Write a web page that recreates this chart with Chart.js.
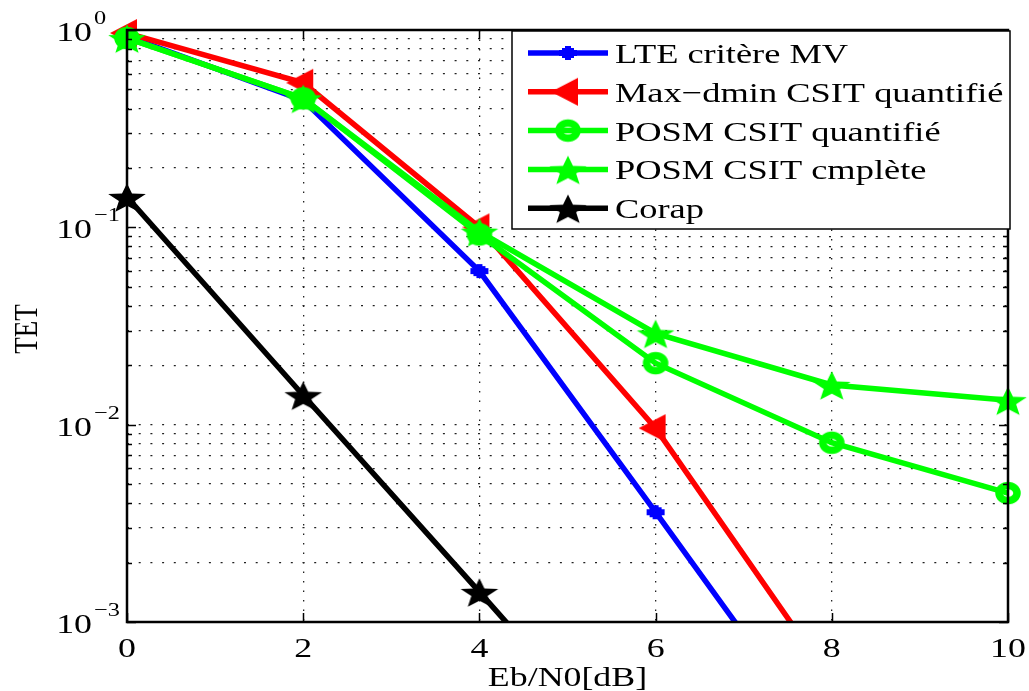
<!DOCTYPE html>
<html>
<head>
<meta charset="utf-8">
<script src="https://cdn.jsdelivr.net/npm/chart.js@4.4.1/dist/chart.umd.min.js"></script>
<style>
  html, body { margin: 0; padding: 0; background: #fff; }
  canvas { display: block; }
</style>
</head>
<body>
<canvas id="chart" width="1029" height="691"></canvas>
<script>
// Eb/N0 in dB
const ebn0 = [0, 2, 4, 6, 8, 10];

// TET for each curve (the steep ones run below 1e-3 and get clipped)
const lteMV     = [0.93, 0.44, 0.060, 0.0036, 0.00021];
const maxDmin   = [0.965, 0.54, 0.100, 0.0096, 0.0005];
const posmQuant = [0.91, 0.45, 0.092, 0.0205, 0.0081, 0.0045];
const posmFull  = [0.91, 0.45, 0.095, 0.029, 0.0159, 0.0133];
const corap     = [0.1425, 0.0141, 0.00142, 0.00014];

const seriesNames = ['LTE critère MV', 'Max\u2212dmin CSIT quantifié', 'POSM CSIT quantifié', 'POSM CSIT cmplète', 'Corap'];

const xTicks = [0, 2, 4, 6, 8, 10];
const yDecades = [1, 0.1, 0.01, 0.001];
const yExponents = ['0', '\u22121', '\u22122', '\u22123'];
const yMinor = [2, 3, 4, 5, 6, 7, 8, 9];

const SX = 1.28;          // figure is stretched horizontally
const SERIF = '"Liberation Serif", "Times New Roman", serif';
const LINE_W = 5.5;

// all y grid values: decades plus 2..9 within each decade
const yGrid = [];
yDecades.forEach(d => {
  yGrid.push(d);
  if (d < 1) yMinor.forEach(m => yGrid.push(m * d));
});

// ---- marker images ----
function marker(w, h, draw) {
  const c = document.createElement('canvas');
  c.width = w; c.height = h;
  draw(c.getContext('2d'), w / 2, h / 2);
  return c;
}

const plusMarker = marker(24, 20, (ctx, cx, cy) => {
  ctx.strokeStyle = '#0000ff';
  ctx.lineWidth = 6;
  ctx.beginPath();
  ctx.moveTo(cx - 9, cy); ctx.lineTo(cx + 9, cy);
  ctx.moveTo(cx, cy - 7); ctx.lineTo(cx, cy + 7);
  ctx.stroke();
  ctx.fillStyle = '#0000ff';
  ctx.fillRect(cx - 6, cy - 5, 12, 10);
});

const triMarker = marker(34, 32, (ctx, cx, cy) => {
  ctx.fillStyle = '#ff0000';
  ctx.beginPath();
  ctx.moveTo(cx - 17, cy);
  ctx.lineTo(cx + 10, cy - 14);
  ctx.lineTo(cx + 10, cy + 14);
  ctx.closePath();
  ctx.fill();
});

const ringMarker = marker(32, 28, (ctx, cx, cy) => {
  ctx.strokeStyle = '#00ff00';
  ctx.lineWidth = 7.5;
  ctx.beginPath();
  ctx.ellipse(cx, cy, 9, 7.5, 0, 0, Math.PI * 2);
  ctx.stroke();
});

function starMarker(color) {
  return marker(48, 40, (ctx, cx, cy) => {
    const R = 18, r = R * 0.43;
    ctx.fillStyle = color;
    ctx.beginPath();
    for (let k = 0; k < 10; k++) {
      const a = -Math.PI / 2 + k * Math.PI / 5;
      const rad = k % 2 ? r : R;
      const px = cx + Math.cos(a) * rad * 1.1;
      const py = cy + 2 + Math.sin(a) * rad * 0.88;
      k ? ctx.lineTo(px, py) : ctx.moveTo(px, py);
    }
    ctx.closePath();
    ctx.fill();
  });
}
const greenStar = starMarker('#00ff00');
const blackStar = starMarker('#000000');

const seriesValues = [lteMV, maxDmin, posmQuant, posmFull, corap];
const seriesColors = ['#0000ff', '#ff0000', '#00ff00', '#00ff00', '#000000'];
const seriesMarkers = [plusMarker, triMarker, ringMarker, greenStar, blackStar];

const datasets = seriesValues.map((vals, i) => ({
  label: seriesNames[i],
  data: vals.map((v, j) => ({ x: ebn0[j], y: v })),
  borderColor: seriesColors[i],
  borderWidth: LINE_W,
  pointStyle: seriesMarkers[i],
  pointRadius: 10,
  tension: 0,
  order: seriesValues.length - i,
  clip: { left: false, top: false, right: false, bottom: 0 }
}));

function drawText(ctx, txt, x, y, size, align, sx) {
  ctx.save();
  ctx.font = size + 'px ' + SERIF;
  ctx.textBaseline = 'alphabetic';
  ctx.textAlign = 'left';
  const w = ctx.measureText(txt).width * sx;
  let left = x;
  if (align === 'center') left = x - w / 2;
  if (align === 'right') left = x - w;
  ctx.translate(left, y);
  ctx.scale(sx, 1);
  ctx.fillText(txt, 0, 0);
  ctx.restore();
}

// axes box, inward tick marks, tick labels, titles and legend
const matlabFrame = {
  id: 'matlabFrame',
  afterDatasetsDraw(chart) {
    const { ctx, chartArea: a, scales: { x, y } } = chart;
    ctx.save();
    ctx.strokeStyle = '#000';
    ctx.fillStyle = '#000';

    // inward ticks
    ctx.lineWidth = 1.5;
    ctx.beginPath();
    yGrid.forEach(v => {
      const py = Math.round(y.getPixelForValue(v)) + 0.5;
      const len = yDecades.includes(v) ? 9 : 5;
      ctx.moveTo(a.left, py); ctx.lineTo(a.left + len, py);
      ctx.moveTo(a.right, py); ctx.lineTo(a.right - len, py);
    });
    xTicks.forEach(v => {
      const px = Math.round(x.getPixelForValue(v)) + 0.5;
      ctx.moveTo(px, a.bottom); ctx.lineTo(px, a.bottom - 9);
      ctx.moveTo(px, a.top); ctx.lineTo(px, a.top + 9);
    });
    ctx.stroke();

    // box
    ctx.lineWidth = 2.5;
    ctx.strokeRect(a.left, a.top, a.right - a.left, a.bottom - a.top);

    // x tick labels
    xTicks.forEach(v => {
      drawText(ctx, String(v), x.getPixelForValue(v), a.bottom + 35, 28, 'center', SX);
    });

    // y tick labels as 10^n
    yDecades.forEach((d, i) => {
      const py = y.getPixelForValue(d);
      drawText(ctx, '10', 92, py + 11, 28, 'right', SX);
      drawText(ctx, yExponents[i], 94, py - 6, 19, 'left', SX);
    });

    // axis titles
    drawText(ctx, 'Eb/N0[dB]', (a.left + a.right) / 2, 686, 28, 'center', SX);
    ctx.save();
    ctx.translate(37, (a.top + a.bottom) / 2 + 3);
    ctx.rotate(-Math.PI / 2);
    ctx.scale(1, SX);
    ctx.font = '27px ' + SERIF;
    ctx.textAlign = 'center';
    ctx.fillText('TET', 0, 0);
    ctx.restore();

    // legend
    const lx = 512, ly = 31, lw = 498, lh = 198;
    ctx.fillStyle = '#fff';
    ctx.fillRect(lx, ly, lw, lh);
    ctx.lineWidth = 1.5;
    ctx.strokeRect(lx, ly, lw, lh);
    seriesNames.forEach((name, i) => {
      const cy = 53 + i * 38.8;
      ctx.strokeStyle = seriesColors[i];
      ctx.lineWidth = LINE_W;
      ctx.beginPath();
      ctx.moveTo(528, cy); ctx.lineTo(608, cy);
      ctx.stroke();
      const m = seriesMarkers[i];
      ctx.drawImage(m, 568 - m.width / 2, cy - m.height / 2);
      ctx.fillStyle = '#000';
      drawText(ctx, name, 615, cy + 10, 28, 'left', 1.3);
    });
    ctx.restore();
  }
};

new Chart(document.getElementById('chart').getContext('2d'), {
  type: 'line',
  data: { datasets },
  options: {
    responsive: false,
    animation: false,
    events: [],
    layout: { padding: { left: 127, right: 21, top: 30, bottom: 69 } },
    plugins: { legend: { display: false }, tooltip: { enabled: false } },
    scales: {
      x: {
        type: 'linear',
        min: 0, max: 10,
        ticks: { display: false, stepSize: 2 },
        afterBuildTicks: s => { s.ticks = xTicks.map(v => ({ value: v })); },
        grid: { color: '#222', lineWidth: 1.3, drawTicks: false },
        border: { display: false, dash: [1.5, 8] }
      },
      y: {
        type: 'logarithmic',
        min: 0.001, max: 1,
        ticks: { display: false },
        afterBuildTicks: s => { s.ticks = yGrid.map(v => ({ value: v })); },
        grid: { color: '#222', lineWidth: 1.3, drawTicks: false },
        border: { display: false, dash: [2, 9.7] }
      }
    }
  },
  plugins: [matlabFrame]
});
</script>
</body>
</html>
